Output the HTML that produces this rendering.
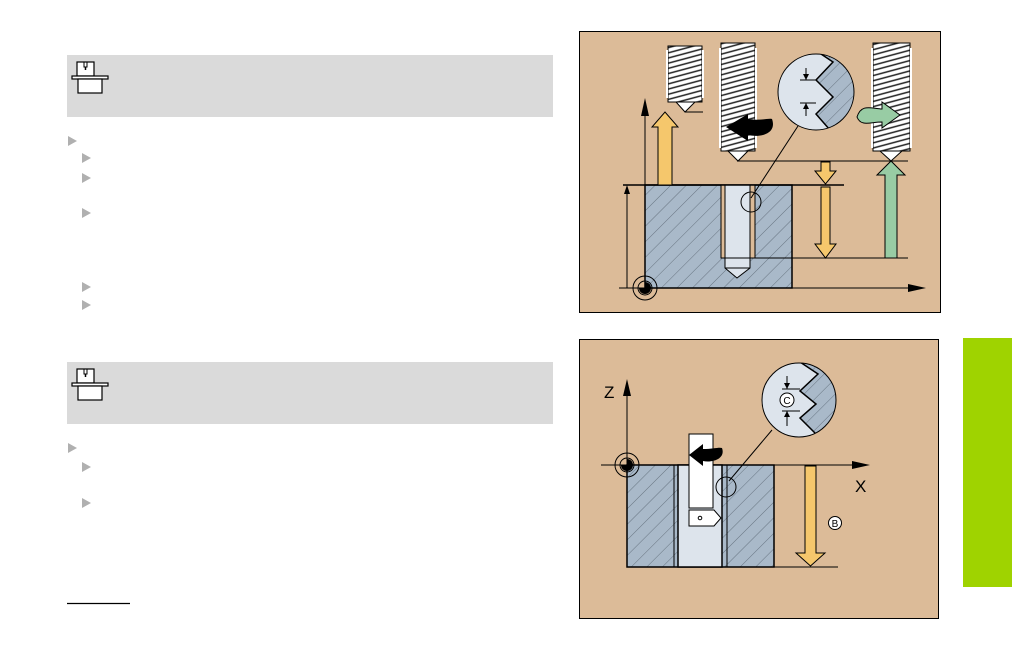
<!DOCTYPE html>
<html><head><meta charset="utf-8"><style>
html,body{margin:0;padding:0;background:#fff;width:1012px;height:655px;overflow:hidden;font-family:"Liberation Sans",sans-serif}
svg{position:absolute;left:0;top:0}
</style></head><body>
<svg width="1012" height="655" viewBox="0 0 1012 655" xmlns="http://www.w3.org/2000/svg">
<defs>
<pattern id="h" width="11" height="11" patternUnits="userSpaceOnUse" patternTransform="rotate(45)">
<rect width="11" height="11" fill="#a9b9c9"/><line x1="0" y1="0" x2="0" y2="11" stroke="#56626e" stroke-width="0.8"/>
</pattern>
<pattern id="t" width="6" height="5" patternUnits="userSpaceOnUse" patternTransform="rotate(-15)">
<rect width="6" height="5" fill="#fff"/><line x1="0" y1="4" x2="6" y2="4" stroke="#222" stroke-width="1.5"/>
</pattern>
<g id="bul"><polygon points="0,0 9,5 0,10" fill="#b0b0b0"/></g>
<g id="icon">
<rect x="10" y="7" width="17" height="14" fill="#fff" stroke="#000" stroke-width="1.2"/>
<rect x="17" y="7" width="3" height="5" fill="none" stroke="#000" stroke-width="1"/>
<line x1="18.5" y1="12" x2="18.5" y2="15" stroke="#000" stroke-width="1.5"/>
<rect x="5" y="21" width="36" height="3" fill="#fff" stroke="#000" stroke-width="1.2"/>
<rect x="11" y="24" width="24" height="14" fill="#fff" stroke="#000" stroke-width="1.2"/>
</g>
</defs>

<rect x="67" y="55" width="486" height="62" fill="#dadada"/>
<use href="#icon" x="67" y="55"/>
<use href="#bul" x="68" y="136"/>
<use href="#bul" x="82" y="153"/>
<use href="#bul" x="82" y="173"/>
<use href="#bul" x="82" y="208"/>
<use href="#bul" x="82" y="282"/>
<use href="#bul" x="82" y="300"/>
<rect x="67" y="362" width="486" height="62" fill="#dadada"/>
<use href="#icon" x="67" y="362"/>
<use href="#bul" x="68" y="443"/>
<use href="#bul" x="82" y="462"/>
<use href="#bul" x="82" y="498"/>
<line x1="67" y1="603.5" x2="130" y2="603.5" stroke="#000" stroke-width="1.2"/>

<rect x="963" y="338" width="49" height="249" fill="#9fd300"/>

<!-- TOP DIAGRAM -->
<rect x="579.5" y="31.5" width="361" height="281" fill="#dcbb98" stroke="#000" stroke-width="1"/>
<rect x="645" y="185" width="147" height="103" fill="url(#h)" stroke="#000" stroke-width="1.5"/>
<rect x="721" y="185" width="34" height="73" fill="#dcbb98" stroke="#000" stroke-width="1"/>
<polygon points="725,185 750,185 750,268 737,278 725,268" fill="#dde4ec" stroke="#000" stroke-width="1"/>
<line x1="725" y1="268" x2="750" y2="268" stroke="#000" stroke-width="1"/>
<line x1="623" y1="185" x2="844" y2="185" stroke="#000" stroke-width="1.5"/>
<line x1="721" y1="258" x2="908" y2="258" stroke="#000" stroke-width="1"/>
<line x1="737" y1="161" x2="908" y2="161" stroke="#000" stroke-width="1"/>
<line x1="619" y1="288" x2="912" y2="288" stroke="#000" stroke-width="1"/>
<polygon points="926,288 908,284 908,292" fill="#000"/>
<line x1="645" y1="106" x2="645" y2="288" stroke="#000" stroke-width="1"/>
<polygon points="645,98 641,116 649,116" fill="#000"/>
<line x1="627" y1="190" x2="627" y2="288" stroke="#000" stroke-width="1"/>
<polygon points="627,185 624,194 630,194" fill="#000"/>
<circle cx="645" cy="288" r="12" fill="none" stroke="#000"/>
<circle cx="645" cy="288" r="7" fill="none" stroke="#000"/>
<path d="M645,288 L645,282 A6,6 0 0 1 645,294 Z" fill="#000"/>
<path d="M645,288 L639,288 A6,6 0 0 0 645,294 Z" fill="#000"/>
<polygon points="658,185 658,127 652,127 665,112 678,127 672,127 672,185" fill="#f5c76c" stroke="#000" stroke-width="1"/>
<polygon points="821,162 830,162 830,171 836,171 825.5,184 815,171 821,171" fill="#f5c76c" stroke="#000" stroke-width="1"/>
<polygon points="821,187 830,187 830,244 836,244 825.5,258 815,244 821,244" fill="#f5c76c" stroke="#000" stroke-width="1"/>
<polygon points="885,258 885,175 877,175 891,161 905,175 897,175 897,258" fill="#98cca4" stroke="#000" stroke-width="1"/>
<!-- taps -->
<rect x="668" y="46" width="34" height="56" fill="url(#t)" stroke="#000" stroke-width="1"/>
<rect x="666" y="50" width="2" height="48" fill="#fff"/><rect x="702" y="50" width="2" height="48" fill="#fff"/>
<polygon points="676,102 695,102 685,112" fill="#fff" stroke="#000"/>
<line x1="685" y1="112" x2="703" y2="112" stroke="#000"/>
<rect x="721" y="43" width="34" height="108" fill="url(#t)" stroke="#000" stroke-width="1"/>
<rect x="719" y="48" width="2" height="100" fill="#fff"/><rect x="755" y="48" width="2" height="100" fill="#fff"/>
<polygon points="728,151 748,151 738,161" fill="#fff" stroke="#000"/>
<rect x="873" y="43" width="37" height="108" fill="url(#t)" stroke="#000" stroke-width="1"/>
<rect x="871" y="48" width="2" height="100" fill="#fff"/><rect x="910" y="48" width="2" height="100" fill="#fff"/>
<polygon points="880,151 902,151 891,161" fill="#fff" stroke="#000"/>
<path d="M772,119 C777,133 762,138 748,135 L748,141 L726,127 L748,114 L748,119 C760,121 768,118 772,119 Z" fill="#000"/>
<path d="M857,117 C861,104 870,108 882,109 L882,102 L900,115 L882,128 L882,122 C870,122 861,127 857,117 Z" fill="#98cca4" stroke="#000" stroke-width="1"/>
<line x1="751" y1="198" x2="798" y2="126" stroke="#000" stroke-width="1"/>
<circle cx="751" cy="202" r="10" fill="none" stroke="#000"/>
<clipPath id="c1"><circle cx="816" cy="92" r="38"/></clipPath>
<circle cx="816" cy="92" r="38" fill="#dde4ec"/>
<polygon clip-path="url(#c1)" points="818,52 833,62 816,80 833,97 816,114 830,130 860,130 860,52" fill="url(#h)" stroke="#000" stroke-width="1.5"/>
<circle cx="816" cy="92" r="38" fill="none" stroke="#000" stroke-width="1"/>
<line x1="800" y1="80" x2="816" y2="80" stroke="#000"/>
<line x1="800" y1="103" x2="816" y2="103" stroke="#000"/>
<line x1="806" y1="68" x2="806" y2="80" stroke="#000"/><polygon points="806,80 803,74 809,74" fill="#000"/>
<line x1="806" y1="103" x2="806" y2="116" stroke="#000"/><polygon points="806,103 803,109 809,109" fill="#000"/>

<!-- BOTTOM DIAGRAM -->
<rect x="579.5" y="339.5" width="359" height="279" fill="#dcbb98" stroke="#000" stroke-width="1"/>
<rect x="627" y="465" width="147" height="102" fill="url(#h)" stroke="#000" stroke-width="1.5"/>
<rect x="678" y="465" width="44" height="102" fill="#dde4ec" stroke="#000" stroke-width="1.5"/>
<line x1="674" y1="465" x2="674" y2="567" stroke="#000"/>
<line x1="727" y1="465" x2="727" y2="567" stroke="#000"/>
<line x1="601" y1="465" x2="855" y2="465" stroke="#000" stroke-width="1"/>
<polygon points="870,465 852,461 852,469" fill="#000"/>
<line x1="627" y1="390" x2="627" y2="465" stroke="#000"/>
<polygon points="627,379 623,396 631,396" fill="#000"/>
<text x="604" y="398" font-size="17" fill="#000">Z</text>
<text x="855" y="492" font-size="17" fill="#000">X</text>
<circle cx="627" cy="465" r="12" fill="none" stroke="#000"/>
<circle cx="627" cy="465" r="7" fill="none" stroke="#000"/>
<path d="M627,465 L627,459 A6,6 0 0 1 627,471 Z" fill="#000"/>
<path d="M627,465 L621,465 A6,6 0 0 0 627,471 Z" fill="#000"/>
<rect x="689" y="434" width="24" height="74" fill="#fff" stroke="#000"/>
<polygon points="689,510 714,510 721,518 714,526 689,526" fill="#fff" stroke="#000"/>
<circle cx="700" cy="518" r="1.8" fill="none" stroke="#000"/>
<path d="M722,448 C726,459 712,463 703,461 L703,466 L689,455 L703,444 L703,449 C713,449 719,447 722,448 Z" fill="#000"/>
<line x1="774" y1="567" x2="838" y2="567" stroke="#000"/>
<polygon points="805,466 816,466 816,553 825,553 810.5,566 796,553 805,553" fill="#f5c76c" stroke="#000" stroke-width="1"/>
<circle cx="835" cy="523" r="6.5" fill="#fff" stroke="#000"/>
<text x="835" y="527" font-size="10" text-anchor="middle">B</text>
<line x1="729" y1="481" x2="772" y2="430" stroke="#000"/>
<circle cx="726" cy="487" r="10" fill="none" stroke="#000"/>
<clipPath id="c2"><circle cx="799" cy="400" r="37"/></clipPath>
<circle cx="799" cy="400" r="37" fill="#dde4ec"/>
<polygon clip-path="url(#c2)" points="800,362 818,374 800,391 816,404 800,418 816,434 850,434 850,362" fill="url(#h)" stroke="#000" stroke-width="1.5"/>
<circle cx="799" cy="400" r="37" fill="none" stroke="#000"/>
<line x1="782" y1="389" x2="800" y2="389" stroke="#000"/>
<line x1="782" y1="411" x2="800" y2="411" stroke="#000"/>
<line x1="787" y1="376" x2="787" y2="389" stroke="#000"/><polygon points="787,389 784,383 790,383" fill="#000"/>
<line x1="787" y1="411" x2="787" y2="426" stroke="#000"/><polygon points="787,411 784,417 790,417" fill="#000"/>
<circle cx="787" cy="400" r="7" fill="#fff" stroke="#000"/>
<text x="787" y="404" font-size="10" text-anchor="middle">C</text>
</svg>
</body></html>
